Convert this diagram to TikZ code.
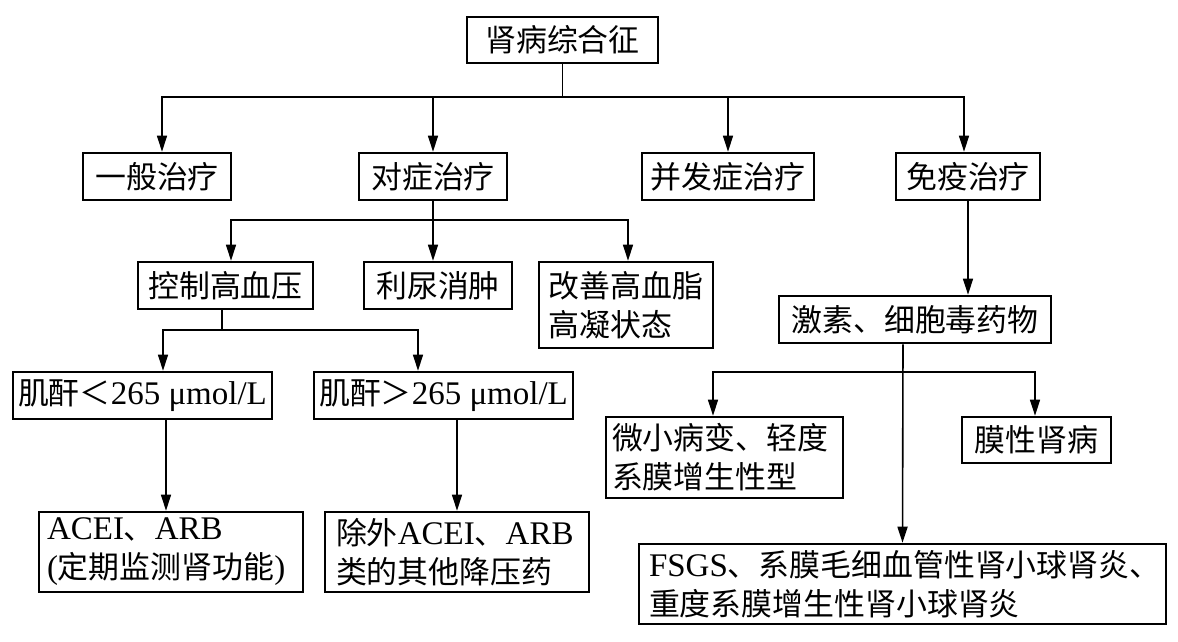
\documentclass[tikz,border=0pt]{standalone}
\usepackage{fontspec}
\setmainfont{Liberation Serif}[Scale=1.1]
\newfontfamily\cjk{Noto Sans CJK SC}[Scale=1.03]
\newcommand\lat[1]{{\rmfamily #1}}
\usetikzlibrary{arrows.meta}
\tikzset{
  box/.style={draw=black, line width=2.6pt, rectangle, minimum height=47pt, inner sep=0pt,
    font=\fontsize{30}{39}\selectfont\cjk, text=black},
  mbox/.style={box, align=left},
  conn/.style={draw=black, line width=1.6pt},
  arr/.style={conn, -{Triangle[length=16pt,width=10pt]}}
}
\begin{document}
\begin{tikzpicture}[x=1pt,y=1pt]
\useasboundingbox[fill=white] (0,0) rectangle (1178,-642);
% nodes
\node[box, minimum width=191pt, minimum height=46pt] (top) at (562.5,-40) {肾病综合征};
\node[box, minimum width=148pt] (g1) at (157,-176.5) {一般治疗};
\node[box, minimum width=148pt] (g2) at (433,-176.5) {对症治疗};
\node[box, minimum width=172pt] (g3) at (728,-176.5) {并发症治疗};
\node[box, minimum width=144pt] (g4) at (968,-176.5) {免疫治疗};
\node[box, minimum width=175pt] (s1) at (225.5,-285.5) {控制高血压};
\node[box, minimum width=148pt] (s2) at (438,-285.5) {利尿消肿};
\node[mbox, text width=155pt, inner xsep=9.5pt, minimum height=86pt] (s3) at (626,-305) {改善高血脂\\高凝状态};
\node[box, minimum width=272pt] (h1) at (915,-319.5) {激素、细胞毒药物};
\node[box, minimum width=259pt] (c1) at (142.5,-395.5) {肌酐＜\lat{265 μmol/L}};
\node[box, minimum width=259pt] (c2) at (443.5,-395.5) {肌酐＞\lat{265 μmol/L}};
\node[mbox, text width=248pt, inner xsep=8pt, minimum height=80pt] (a1) at (171,-552) {\lat{ACEI}、\lat{ARB}\\\lat{(}定期监测肾功能\lat{)}};
\node[mbox, text width=242pt, inner xsep=11pt, minimum height=80pt] (a2) at (457,-552) {除外\lat{ACEI}、\lat{ARB}\\类的其他降压药};
\node[mbox, text width=225pt, inner xsep=6pt, minimum height=81pt] (m1) at (724.5,-457.5) {微小病变、轻度\\系膜增生性型};
\node[box, minimum width=149pt, minimum height=46pt] (m2) at (1036.5,-440) {膜性肾病};
\node[mbox, text width=507pt, inner xsep=10pt, minimum height=80pt] (f) at (902.5,-584) {\lat{FSGS}、系膜毛细血管性肾小球肾炎、\\重度系膜增生性肾小球肾炎};
% junctions
\coordinate (j1) at (562.5,-97);
\coordinate (j2) at (433,-220);
\coordinate (j3) at (222,-330);
\coordinate (j4) at (903,-372);
% connectors
\draw[conn] (top.south) -- (j1);
\draw[arr] (j1) -| ([xshift=5pt]g1.north);
\draw[arr] (j1) -| (g2.north);
\draw[arr] (j1) -| (g3.north);
\draw[arr] (j1) -| ([xshift=-4pt]g4.north);
\draw[conn] (g2.south) -- (j2);
\draw[arr] (j2) -| ([xshift=5.5pt]s1.north);
\draw[arr] (j2) -| ([xshift=-5pt]s2.north);
\draw[arr] (j2) -| ([xshift=2pt]s3.north);
\draw[arr] (g4.south) -- (g4.south |- h1.north);
\draw[conn] ([xshift=-3.5pt]s1.south) -- (j3);
\draw[arr] (j3) -| ([xshift=20.5pt]c1.north);
\draw[arr] (j3) -| ([xshift=-25.5pt]c2.north);
\draw[arr] ([xshift=23.5pt]c1.south) -- ([xshift=-5pt]a1.north);
\draw[arr] ([xshift=13.5pt]c2.south) -- (a2.north);
\draw[arr] ([xshift=-12pt]h1.south) -- (f.north);
\draw[arr] (j4) -| ([xshift=-11.5pt]m1.north);
\draw[arr] (j4) -| ([xshift=-1.5pt]m2.north);
\end{tikzpicture}
\end{document}
